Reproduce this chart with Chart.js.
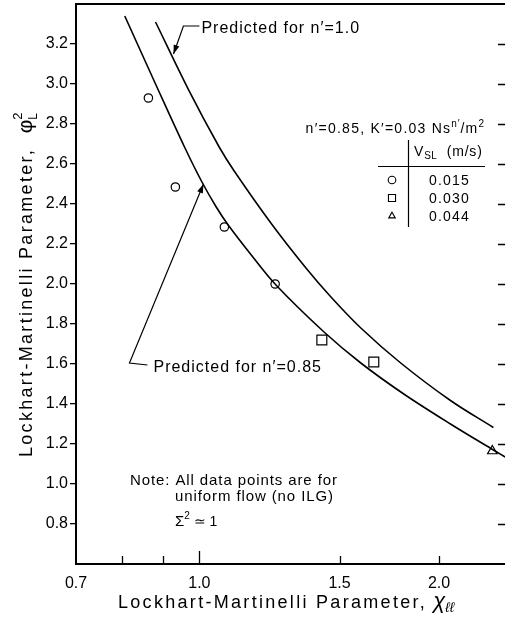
<!DOCTYPE html>
<html>
<head>
<meta charset="utf-8">
<script src="https://cdn.jsdelivr.net/npm/chart.js@4/dist/chart.umd.min.js"></script>
<style>
html,body{margin:0;padding:0;background:#fff;}
#wrap{width:505px;height:625px;position:relative;}
canvas{display:block;}
</style>
</head>
<body>
<div id="wrap"><canvas id="c" width="505" height="625"></canvas></div>
<script>
// ---------- data ----------
const xTickValues = [0.7, 0.8, 0.9, 1.0, 1.5, 2.0];
const xTickLabels = ['0.7', '', '', '1.0', '1.5', '2.0'];
const yTickValues = [0.8, 1.0, 1.2, 1.4, 1.6, 1.8, 2.0, 2.2, 2.4, 2.6, 2.8, 3.0, 3.2];
const yTickLabels = ['0.8', '1.0', '1.2', '1.4', '1.6', '1.8', '2.0', '2.2', '2.4', '2.6', '2.8', '3.0', '3.2'];

const predN085X = [0.806, 0.881, 0.958, 1.006, 1.050, 1.087, 1.162, 1.248, 1.434, 1.595, 1.806, 2.067, 2.34, 2.422];
const predN085Y = [3.34, 3.00, 2.685, 2.515, 2.385, 2.295, 2.145, 1.995, 1.76, 1.605, 1.45, 1.30, 1.17, 1.135];

const predN100X = [0.881, 0.969, 1.059, 1.106, 1.231, 1.361, 1.463, 1.595, 1.79, 2.067, 2.34];
const predN100Y = [3.31, 2.972, 2.685, 2.565, 2.3025, 2.08, 1.935, 1.78, 1.605, 1.4175, 1.2825];

const circleX = [0.863, 0.933, 1.075, 1.245];
const circleY = [2.93, 2.485, 2.285, 2.00];
const squareX = [1.425, 1.656];
const squareY = [1.72, 1.61];
const triangleX = [2.333];
const triangleY = [1.165];

const legendStyles = ['circle', 'rect', 'triangle'];
const legendVsl = ['0.015', '0.030', '0.044'];

const xMin = 0.704, xMax = 2.42, yMin = 0.6, yMax = 3.4;

const pts = (xs, ys) => xs.map((x, i) => ({x, y: ys[i]}));
const FONT = '"Liberation Sans", Arial, Helvetica, sans-serif';

function drawRich(ctx, parts, x, y) {
  let cx = x, prevStart = x;
  for (const p of parts) {
    const size = p.size || 16;
    ctx.font = (p.italic ? 'italic ' : '') + size + 'px ' + FONT;
    if ('letterSpacing' in ctx) ctx.letterSpacing = (p.ls != null ? p.ls : 0) + 'px';
    const sx = p.stack ? prevStart : cx;
    ctx.fillText(p.t, sx, y + (p.dy || 0));
    const w = ctx.measureText(p.t).width;
    prevStart = sx;
    cx = Math.max(cx, sx + w);
  }
  if ('letterSpacing' in ctx) ctx.letterSpacing = '0px';
  return cx;
}
function richWidth(ctx, parts) {
  ctx.save();
  ctx.globalAlpha = 0;
  const w = drawRich(ctx, parts, 0, -1000);
  ctx.restore();
  return w;
}

function arrow(ctx, pts2, headLen, headW) {
  ctx.beginPath();
  ctx.moveTo(pts2[0][0], pts2[0][1]);
  for (let i = 1; i < pts2.length; i++) ctx.lineTo(pts2[i][0], pts2[i][1]);
  ctx.stroke();
  const [tx, ty] = pts2[pts2.length - 1];
  const [px, py] = pts2[pts2.length - 2];
  const a = Math.atan2(ty - py, tx - px);
  ctx.beginPath();
  ctx.moveTo(tx, ty);
  ctx.lineTo(tx - headLen * Math.cos(a) + headW * Math.sin(a), ty - headLen * Math.sin(a) - headW * Math.cos(a));
  ctx.lineTo(tx - headLen * Math.cos(a) - headW * Math.sin(a), ty - headLen * Math.sin(a) + headW * Math.cos(a));
  ctx.closePath();
  ctx.fill();
}

const decor = {
  id: 'decor',
  afterDraw(chart) {
    const ctx = chart.ctx;
    const {left, right, top, bottom} = chart.chartArea;
    const xs = chart.scales.x, ys = chart.scales.y;
    ctx.save();
    ctx.strokeStyle = '#000';
    ctx.fillStyle = '#000';
    ctx.textBaseline = 'alphabetic';
    ctx.textAlign = 'left';

    // frame (top, left, bottom)
    ctx.lineWidth = 2;
    ctx.beginPath();
    ctx.moveTo(right, top); ctx.lineTo(left, top); ctx.lineTo(left, bottom); ctx.lineTo(right, bottom);
    ctx.stroke();

    // inner ticks
    ctx.lineWidth = 1.3;
    ctx.beginPath();
    yTickValues.forEach(v => {
      const y = Math.round(ys.getPixelForValue(v)) + 0.5;
      ctx.moveTo(right - 7, y); ctx.lineTo(right, y);
    });
    xTickValues.forEach(v => {
      const x = Math.round(xs.getPixelForValue(v)) + 0.5;
      if (x <= left + 2) return;
      ctx.moveTo(x, bottom); ctx.lineTo(x, bottom - (v === 1.0 ? 13 : 8));
    });
    ctx.stroke();

    // annotation: Predicted for n'=1.0
    ctx.lineWidth = 1.2;
    const t1 = [xs.getPixelForValue(0.928), ys.getPixelForValue(3.15)];
    const c1 = [xs.getPixelForValue(0.955), ys.getPixelForValue(3.29)];
    arrow(ctx, [[c1[0] + 16, c1[1]], c1, t1], 9, 3);
    drawRich(ctx, [{t: 'Predicted for n\u2032=1.0', size: 16, ls: 1}], c1[0] + 18, c1[1] + 7);

    // annotation: Predicted for n'=0.85
    const t2 = [xs.getPixelForValue(1.012), ys.getPixelForValue(2.50)];
    const c2 = [xs.getPixelForValue(0.817), ys.getPixelForValue(1.605)];
    arrow(ctx, [[c2[0] + 18, c2[1] + 2], c2, t2], 9, 3);
    drawRich(ctx, [{t: 'Predicted for n\u2032=0.85', size: 16, ls: 1}], c2[0] + 24, c2[1] + 9);

    // parameter line (right aligned)
    const pParts = [
      {t: 'n\u2032=0.85, K\u2032=0.03 Ns', size: 14, ls: 1.25},
      {t: 'n\u2032', size: 10, dy: -6, ls: 0.8},
      {t: '/m', size: 14, ls: 1.25},
      {t: '2', size: 10, dy: -6}
    ];
    const pw = richWidth(ctx, pParts);
    drawRich(ctx, pParts, 484 - pw, 133);

    // legend table
    drawRich(ctx, [{t: 'V', size: 14, ls: 0.8}, {t: 'SL', size: 10, dy: 3, ls: 0.5}, {t: '  (m/s)', size: 14, ls: 0.8}], 414, 156);
    ctx.lineWidth = 1.2;
    ctx.beginPath();
    ctx.moveTo(378, 166.5); ctx.lineTo(485, 166.5);
    ctx.moveTo(408.5, 140); ctx.lineTo(408.5, 227);
    ctx.stroke();
    const rowY = [185, 203, 221];
    legendStyles.forEach((st, i) => {
      ctx.lineWidth = 1.1;
      ctx.fillStyle = '#fff';
      Chart.helpers.drawPoint(ctx, {pointStyle: st, radius: st === 'rect' ? 5 : 3.8, borderWidth: 1.1, rotation: 0}, 392, rowY[i] - 5);
      ctx.fillStyle = '#000';
      ctx.textAlign = 'left';
      drawRich(ctx, [{t: legendVsl[i], size: 14, ls: 1.2}], 429, rowY[i]);
    });

    // note
    drawRich(ctx, [{t: 'Note: All data points are for', size: 15, ls: 0.9}], 130, 485);
    drawRich(ctx, [{t: 'uniform flow (no ILG)', size: 15, ls: 0.9}], 175, 501);
    drawRich(ctx, [{t: '\u03A3', size: 15}, {t: '2', size: 10, dy: -7}, {t: ' \u2243 1', size: 14}], 175, 526);

    // x axis title
    drawRich(ctx, [
      {t: 'Lockhart-Martinelli Parameter,', size: 18, ls: 2.3},
      {t: ' \u03C7', size: 22, italic: true},
      {t: '\u2113\u2113', size: 14, italic: true, dy: 4}
    ], 118, 608);

    // y axis title
    ctx.save();
    ctx.translate(32, 457);
    ctx.rotate(-Math.PI / 2);
    drawRich(ctx, [
      {t: 'Lockhart-Martinelli Parameter,  ', size: 18, ls: 2.3},
      {t: '\u03C6', size: 21},
      {t: 'L', size: 12, dy: 5},
      {t: '2', size: 13, dy: -10, stack: true}
    ], 0, 0);
    ctx.restore();

    ctx.restore();
  }
};

const pointBase = {showLine: false, pointBackgroundColor: '#fff', pointBorderColor: '#000', borderColor: '#000', backgroundColor: '#fff', pointBorderWidth: 1.2};

new Chart(document.getElementById('c'), {
  type: 'scatter',
  data: {
    datasets: [
      {label: "Predicted n'=0.85", data: pts(predN085X, predN085Y), showLine: true, borderColor: '#000', borderWidth: 1.6, pointRadius: 0, tension: 0.35, fill: false},
      {label: "Predicted n'=1.0", data: pts(predN100X, predN100Y), showLine: true, borderColor: '#000', borderWidth: 1.6, pointRadius: 0, tension: 0.35, fill: false},
      Object.assign({label: '0.015', data: pts(circleX, circleY), pointStyle: 'circle', pointRadius: 4.2}, pointBase),
      Object.assign({label: '0.030', data: pts(squareX, squareY), pointStyle: 'rect', pointRadius: 7}, pointBase),
      Object.assign({label: '0.044', data: pts(triangleX, triangleY), pointStyle: 'triangle', pointRadius: 5.5}, pointBase)
    ]
  },
  options: {
    responsive: false,
    animation: false,
    devicePixelRatio: 1,
    layout: {autoPadding: false, padding: {top: 4, right: 0, bottom: 0, left: 0}},
    plugins: {legend: {display: false}, tooltip: {enabled: false}},
    scales: {
      x: {
        type: 'logarithmic',
        min: xMin, max: xMax,
        afterBuildTicks(s) { s.ticks = xTickValues.map(v => ({value: v, major: false})); },
        afterFit(s) { s.height = 61; s.paddingLeft = 0; s.paddingRight = 0; },
        grid: {display: false, drawTicks: false},
        border: {display: false},
        ticks: {
          autoSkip: false, maxRotation: 0, padding: 10, color: '#000',
          font: {family: FONT, size: 16},
          callback: (v, i) => xTickLabels[i]
        }
      },
      y: {
        type: 'linear',
        min: yMin, max: yMax,
        afterBuildTicks(s) { s.ticks = yTickValues.map(v => ({value: v})); },
        afterFit(s) { s.width = 76; s.paddingTop = 0; s.paddingBottom = 0; },
        grid: {display: true, drawOnChartArea: false, drawTicks: true, tickLength: 6, color: '#000', lineWidth: 1.3},
        border: {display: false},
        ticks: {
          autoSkip: false, padding: 2, color: '#000',
          font: {family: FONT, size: 16},
          callback: (v, i) => yTickLabels[i]
        }
      }
    }
  },
  plugins: [decor]
});
</script>
</body>
</html>
